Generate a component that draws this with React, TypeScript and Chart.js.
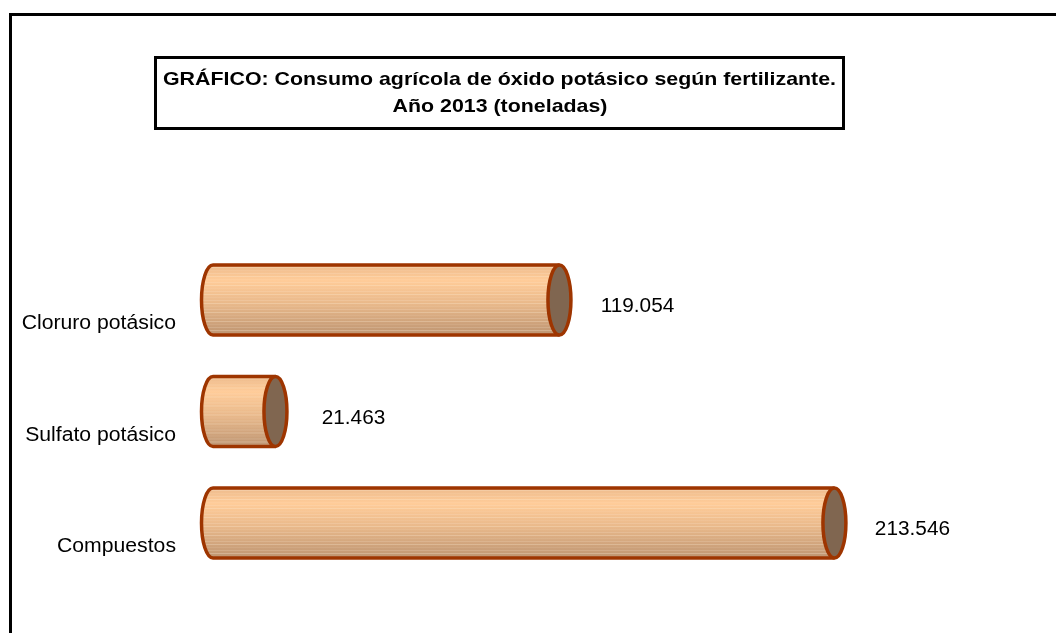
import React, { useEffect, useRef } from "react";
import { Chart, registerables } from "chart.js";

Chart.register(...registerables);

const categories: string[] = ["Cloruro potásico", "Sulfato potásico", "Compuestos"];
const values: number[] = [119054, 21463, 213546];
const titleLines: string[] = [
  "GRÁFICO: Consumo agrícola de óxido potásico según fertilizante.",
  "Año 2013 (toneladas)",
];

const FONT = '"Liberation Sans", Arial, sans-serif';

function fmt(v: number): string {
  return String(v).replace(/\B(?=(\d{3})+(?!\d))/g, ".");
}

function drawText(
  ctx: CanvasRenderingContext2D,
  text: string,
  x: number,
  y: number,
  align: CanvasTextAlign,
  font: string,
  sx: number
) {
  ctx.save();
  ctx.translate(x, y);
  ctx.scale(sx, 1);
  ctx.font = font;
  ctx.fillStyle = "#000000";
  ctx.textAlign = align;
  ctx.textBaseline = "alphabetic";
  ctx.fillText(text, 0, 0);
  ctx.restore();
}

const cylinderPlugin = {
  id: "cylinderPlugin",
  afterDraw(chart: any) {
    const ctx: CanvasRenderingContext2D = chart.ctx;
    ctx.save();

    // outer frame (left + top)
    ctx.strokeStyle = "#000000";
    ctx.lineWidth = 3;
    ctx.beginPath();
    ctx.moveTo(10.5, 640);
    ctx.lineTo(10.5, 14.5);
    ctx.lineTo(1060, 14.5);
    ctx.stroke();

    // title box
    ctx.fillStyle = "#ffffff";
    ctx.fillRect(155, 57, 689, 72);
    ctx.strokeStyle = "#000000";
    ctx.lineWidth = 3;
    ctx.strokeRect(155.5, 57.5, 688, 71);

    const tfont = `bold 19px ${FONT}`;
    ctx.font = tfont;
    const w1 = ctx.measureText(titleLines[0]).width;
    const tsx = 673 / w1;
    drawText(ctx, titleLines[0], 499.5, 85, "center", tfont, tsx);
    drawText(ctx, titleLines[1], 500, 111.5, "center", tfont, tsx);

    const meta = chart.getDatasetMeta(0);
    const yScale = chart.scales.y;
    meta.data.forEach((bar: any, i: number) => {
      const x = bar.x;
      const base = bar.base;
      const cy = bar.y;
      const h = bar.height;
      const top = cy - h / 2;
      const bot = cy + h / 2;
      const rx = 11.5;
      const ry = h / 2;

      // body gradient
      const g = ctx.createLinearGradient(0, top, 0, bot);
      g.addColorStop(0, "#EDBB8D");
      g.addColorStop(0.22, "#FFCC99");
      g.addColorStop(0.55, "#E9B98B");
      g.addColorStop(1, "#BE9572");

      ctx.beginPath();
      ctx.moveTo(base, top);
      ctx.lineTo(x, top);
      ctx.lineTo(x, bot);
      ctx.lineTo(base, bot);
      ctx.ellipse(base, cy, rx, ry, 0, Math.PI / 2, (3 * Math.PI) / 2);
      ctx.closePath();
      ctx.fillStyle = g;
      ctx.fill();

      // texture stripes
      ctx.save();
      ctx.clip();
      for (let k = 0, yy = top + 2; yy < bot; k++, yy += 3) {
        const a = k % 3 === 0 ? 0.28 : k % 3 === 1 ? 0.1 : 0.18;
        ctx.strokeStyle = `rgba(255,240,220,${a})`;
        ctx.lineWidth = 1;
        ctx.beginPath();
        ctx.moveTo(base - rx, yy + 0.5);
        ctx.lineTo(x, yy + 0.5);
        ctx.stroke();
      }
      ctx.restore();

      // outline of body
      ctx.strokeStyle = "#9E3500";
      ctx.lineWidth = 3.5;
      ctx.beginPath();
      ctx.moveTo(x, top);
      ctx.lineTo(base, top);
      ctx.ellipse(base, cy, rx, ry, 0, (3 * Math.PI) / 2, Math.PI / 2, true);
      ctx.lineTo(x, bot);
      ctx.stroke();

      // end cap
      ctx.beginPath();
      ctx.ellipse(x, cy, rx, ry, 0, 0, Math.PI * 2);
      ctx.fillStyle = "#806650";
      ctx.fill();
      ctx.stroke();

      // value label
      drawText(ctx, fmt(values[i]), x + 78, cy + 12, "center", `20px ${FONT}`, 1.04);

      // category label
      const ty = yScale.getPixelForTick(i);
      drawText(ctx, categories[i], 176, ty + 29, "right", `20px ${FONT}`, 1.06);
    });

    ctx.restore();
  },
};

export default function App() {
  const ref = useRef<HTMLCanvasElement | null>(null);

  useEffect(() => {
    if (!ref.current) return;
    const chart = new Chart(ref.current, {
      type: "bar",
      data: {
        labels: categories,
        datasets: [
          {
            data: values,
            backgroundColor: "rgba(0,0,0,0)",
            borderWidth: 0,
            barPercentage: 0.628,
            categoryPercentage: 1,
          },
        ],
      },
      options: {
        indexAxis: "y",
        responsive: false,
        animation: false,
        layout: { padding: { left: 213, right: 115.5, top: 244.25, bottom: 54.25 } },
        scales: {
          x: { display: false, min: 0, max: 250000 },
          y: { display: false },
        },
        plugins: {
          legend: { display: false },
          tooltip: { enabled: false },
          title: { display: false },
        },
      },
      plugins: [cylinderPlugin],
    } as any);
    return () => chart.destroy();
  }, []);

  return (
    <canvas
      ref={ref}
      width={1056}
      height={633}
      style={{ position: "fixed", left: 0, top: 0, width: 1056, height: 633, background: "#ffffff" }}
    />
  );
}
